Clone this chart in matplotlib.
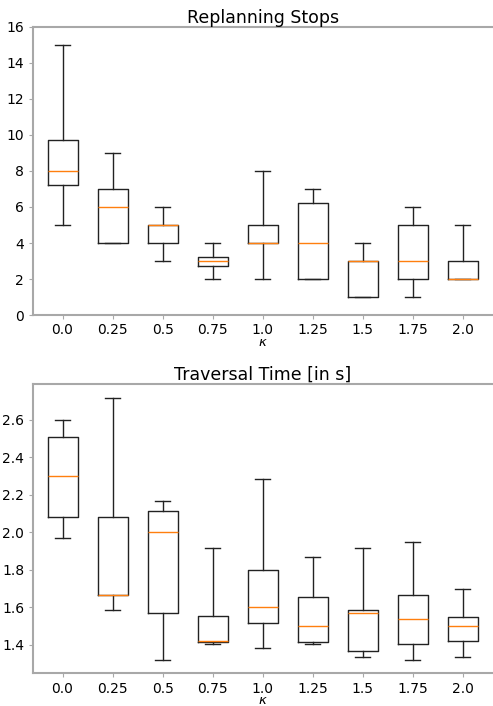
import matplotlib
matplotlib.use("Agg")
import matplotlib.pyplot as plt

categories = ["0.0", "0.25", "0.5", "0.75", "1.0", "1.25", "1.5", "1.75", "2.0"]

# Replanning Stops
stops_whislo = [5, 4, 3, 2, 2, 2, 1, 1, 2]
stops_q1 = [7.25, 4, 4, 2.75, 4, 2, 1, 2, 2]
stops_med = [8, 6, 5, 3, 4, 4, 3, 3, 2]
stops_q3 = [9.75, 7, 5, 3.25, 5, 6.25, 3, 5, 3]
stops_whishi = [15, 9, 6, 4, 8, 7, 4, 6, 5]

# Traversal Time [in s]
time_whislo = [1.969, 1.585, 1.318, 1.402, 1.384, 1.402, 1.336, 1.318, 1.336]
time_q1 = [2.081, 1.667, 1.569, 1.414, 1.519, 1.414, 1.366, 1.402, 1.418]
time_med = [2.30, 1.667, 2.001, 1.423, 1.601, 1.501, 1.569, 1.537, 1.501]
time_q3 = [2.511, 2.084, 2.116, 1.553, 1.80, 1.654, 1.585, 1.667, 1.551]
time_whishi = [2.60, 2.717, 2.168, 1.917, 2.285, 1.868, 1.917, 1.951, 1.70]


def make_stats(lo, q1, med, q3, hi):
    return [dict(whislo=a, q1=b, med=c, q3=d, whishi=e, fliers=[])
            for a, b, c, d, e in zip(lo, q1, med, q3, hi)]


fig = plt.figure(figsize=(4.93, 7.06), dpi=100)
ax1 = fig.add_axes([32.5 / 493, 1 - 315 / 706, 1 - 32.5 / 493, 288 / 706])
ax2 = fig.add_axes([32.5 / 493, 1 - 673.3 / 706, 1 - 32.5 / 493, 289 / 706])

spine_color = "#a8a8a8"
box_kw = dict(
    positions=range(1, len(categories) + 1),
    widths=0.6,
    showfliers=False,
    boxprops=dict(color="#222222", linewidth=1.0),
    whiskerprops=dict(color="#222222", linewidth=1.0),
    capprops=dict(color="#222222", linewidth=1.0),
    medianprops=dict(color="#ff7f0e", linewidth=1.0),
)

for ax, stats, title in [
    (ax1, make_stats(stops_whislo, stops_q1, stops_med, stops_q3, stops_whishi), "Replanning Stops"),
    (ax2, make_stats(time_whislo, time_q1, time_med, time_q3, time_whishi), "Traversal Time [in s]"),
]:
    ax.bxp(stats, **box_kw)
    ax.set_xticks(range(1, len(categories) + 1))
    ax.set_xticklabels(categories)
    ax.set_xlim(0.4, 9.6)
    ax.set_title(title, fontsize=12.5, pad=3)
    ax.set_xlabel(r"$\kappa$", fontsize=9.5, va="top")
    ax.tick_params(labelsize=10, length=3, width=0.8, color=spine_color, pad=3)
    for s in ["top", "left", "bottom"]:
        ax.spines[s].set_color(spine_color)
        ax.spines[s].set_linewidth(1.5)
    ax.spines["right"].set_visible(False)

ax1.xaxis.set_label_coords(0.5, -(336 - 315) / 288)
ax2.xaxis.set_label_coords(0.5, -(694.5 - 673.3) / 289)

ax1.set_ylim(0, 16)
ax1.set_yticks(range(0, 17, 2))
ax2.set_ylim(1.248, 2.79)
ax2.set_yticks([1.4, 1.6, 1.8, 2.0, 2.2, 2.4, 2.6])

fig.savefig("out.png", dpi=100)
